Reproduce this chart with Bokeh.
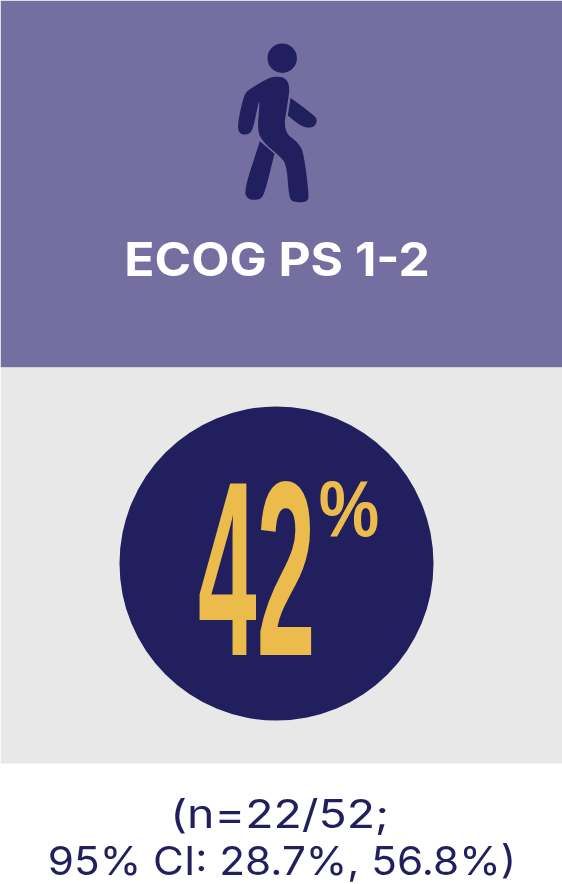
from bokeh.plotting import figure, curdoc
from bokeh.models import Range1d, CustomJS
from bokeh.events import DocumentReady
from bokeh.core.properties import value
from bokeh.embed import file_html
from bokeh.resources import INLINE

title = "ECOG PS 1-2"
pct_value = "42"
pct_sign = "%"
note_lines = ["(n=22/52;", "95% CI: 28.7%, 56.8%)"]

PURPLE, NAVY, GOLD, GREY = "#746FA0", "#221F5E", "#EBBB4C", "#E8E8E9"

# icon control outlines, traced in a 3x crop whose origin is (200, 20)
body = [(228,168),(255,172),(268,198),(262,245),(248,332),(295,368),(310,400),(325,520),(322,545),(275,545),(265,525),(258,430),(235,405),(188,365),(170,330),(178,245),(174,245),(158,325),(145,342),(118,342),(110,315),(130,222),(148,205),(205,172)]
rear_leg = [(178,362),(178,362),(222,400),(222,400),(192,520),(178,538),(142,538),(130,510)]
front_arm = [(270,232),(270,232),(335,280),(352,298),(340,322),(305,320),(262,285),(262,285)]


def smooth(pts, rounds=2):
    for _ in range(rounds):
        out = []
        for i, a in enumerate(pts):
            b = pts[(i + 1) % len(pts)]
            out.append((0.75 * a[0] + 0.25 * b[0], 0.75 * a[1] + 0.25 * b[1]))
            out.append((0.25 * a[0] + 0.75 * b[0], 0.25 * a[1] + 0.75 * b[1]))
        pts = out
    return pts


W, H = 562, 884
p = figure(width=W, height=H, output_backend="svg", toolbar_location=None,
           x_range=Range1d(0, W), y_range=Range1d(H, 0), min_border=0,
           outline_line_color=None, background_fill_color="white", border_fill_color="white")
p.axis.visible = False
p.grid.visible = False
p.styles = {"position": "fixed", "left": "0", "top": "0"}

p.quad(left=[0], right=[W], top=[0], bottom=[367], fill_color=PURPLE, line_color=None)
p.quad(left=[0], right=[W], top=[367], bottom=[763], fill_color=GREY, line_color=None)
p.circle(x=[276], y=[563], radius=157, fill_color=NAVY, line_color=None)

p.circle(x=[281.7], y=[57.7], radius=14.7, fill_color=NAVY, line_color=None)
for shape in (body, rear_leg, front_arm):
    s = smooth(shape)
    p.patch([200 + a / 3 for a, _ in s], [20 + b / 3 for _, b in s], fill_color=NAVY, line_color=None)

p.text(x=[276.5], y=[259], text=[title], text_font=value("Inter"), text_font_style="bold",
       text_font_size="46px", text_color="white", text_align="center", text_baseline="alphabetic")
p.text(x=[256.5], y=[568], text=[pct_value], text_font=value("Liberation Sans"), text_font_style="bold",
       text_font_size="248px", text_color=GOLD, text_align="center", text_baseline="alphabetic")
p.text(x=[348.5], y=[508], text=[pct_sign], text_font=value("Liberation Sans"), text_font_style="bold",
       text_font_size="80px", text_color=GOLD, text_align="center", text_baseline="alphabetic")
p.text(x=[279, 281.5], y=[813, 860.5], text=note_lines, text_font=value("Inter"),
       text_font_size="39px", text_color=NAVY, text_align="center", text_baseline="alphabetic")

# The reference's lettering is a display cut that no installed font offers: fit real text to its widths.
fits = {pct_value: [0.425, 256.5], pct_sign: [0.85, 348.5], title: [1.08, 276.5],
        note_lines[0]: [1.19, 279], note_lines[1]: [1.084, 281.5]}
squeeze = CustomJS(args=dict(fits=fits), code="""
function walk(root) {
  for (const el of root.querySelectorAll('*')) {
    if (el.shadowRoot) walk(el.shadowRoot);
    if (el.tagName.toLowerCase() === 'text' && !el.dataset.fitted) {
      const f = fits instanceof Map ? fits.get(el.textContent) : fits[el.textContent];
      if (!f) continue;
      const t = el.getAttribute('transform') || '';
      el.setAttribute('transform', `translate(${f[1]} 0) scale(${f[0]} 1) translate(${-f[1]} 0) ` + t);
      el.dataset.fitted = '1';
    }
  }
}
walk(document);
let n = 0;
const id = setInterval(() => { walk(document); if (++n > 20) clearInterval(id); }, 50);
""")
curdoc().add_root(p)
curdoc().js_on_event(DocumentReady, squeeze)

open("out.html", "w").write(file_html(p, INLINE))
